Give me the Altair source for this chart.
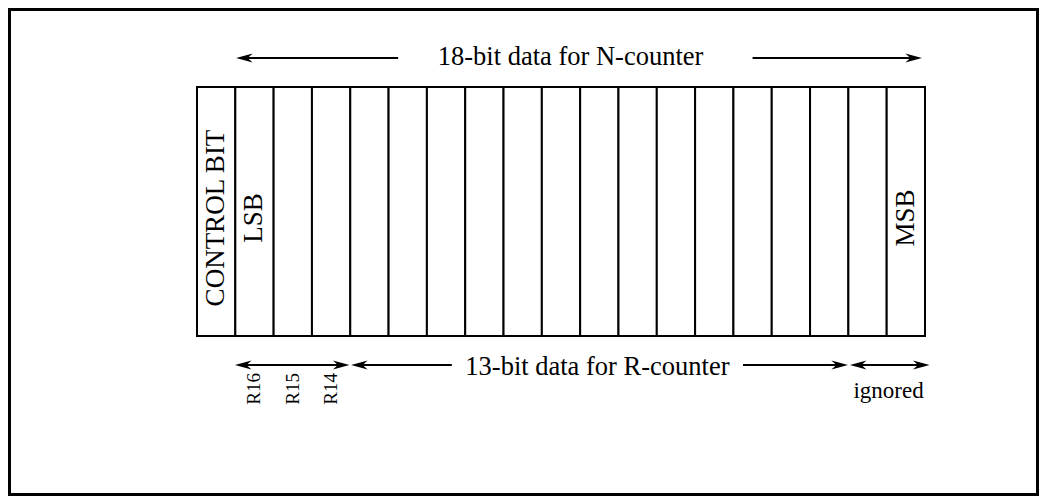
import altair as alt
import pandas as pd

# ---------------- data ----------------
BIT_LABELS = ["CONTROL BIT", "LSB"] + [""] * 16 + ["MSB"]
TOP_LABEL = "18-bit data for N-counter"
TOP_FIRST_BIT = 1
TOP_BITS = 18
GROUP_LABELS = ["", "13-bit data for R-counter", "ignored"]
GROUP_BITS = [3, 13, 2]
R_LABELS = ["R16", "R15", "R14"]

# ---------------- layout (scale space) ----------------
W, H = 1031, 488
PX_PER_BIT = 38.316
REG_LEFT_PX = 189.0
X_DOMAIN = [-REG_LEFT_PX / PX_PER_BIT, (W - REG_LEFT_PX) / PX_PER_BIT]
Y_DOMAIN = [0, H]

REG_TOP, REG_BOTTOM = 79, 328
CELL_LABEL_Y = 210
TOP_ARROW_Y = 50
TOP_TEXT_Y = 49
BOT_ARROW_Y = 357
BOT_TEXT_Y = 359
R_LABEL_Y = 365
IGNORED_Y = 390
FONT = "Liberation Serif"

xs = alt.Scale(domain=X_DOMAIN, nice=False, zero=False)
ys = alt.Scale(domain=Y_DOMAIN, nice=False, zero=False, reverse=True)
X = lambda f: alt.X(f, type="quantitative", scale=xs, axis=None)
Y = lambda f: alt.Y(f, type="quantitative", scale=ys, axis=None)

# register cells
cells = pd.DataFrame({
    "b0": list(range(len(BIT_LABELS))),
    "b1": [i + 1 for i in range(len(BIT_LABELS))],
    "mid": [i + 0.5 for i in range(len(BIT_LABELS))],
    "label": BIT_LABELS,
    "top": REG_TOP, "bottom": REG_BOTTOM, "ly": CELL_LABEL_Y,
})
cell_rects = alt.Chart(cells).mark_rect(fill="white", stroke="black", strokeWidth=2).encode(
    x=X("b0"), x2="b1", y=Y("top"), y2="bottom")
cell_text = alt.Chart(cells).mark_text(
    font=FONT, fontSize=27, angle=270, align="center", baseline="middle", color="black"
).encode(x=X("mid"), y=Y("ly"), text="label:N")

# arrow segments / heads / texts
segs, heads, texts = [], [], []

def arrow(b0, b1, y, label, text_y, text_center=None, gap_l=0.0, gap_r=0.0):
    heads.append({"x": b0, "y": y, "dir": "L"})
    heads.append({"x": b1, "y": y, "dir": "R"})
    if label:
        c = text_center if text_center is not None else (b0 + b1) / 2
        segs.append({"x": b0 + 0.1, "x2": c - gap_l, "y": y})
        segs.append({"x": c + gap_r, "x2": b1 - 0.1, "y": y})
        texts.append({"x": c, "y": text_y, "t": label, "size": 26})
    else:
        segs.append({"x": b0 + 0.1, "x2": b1 - 0.1, "y": y})

# top group (gaps in bit units around the title)
arrow(TOP_FIRST_BIT + 0.02, TOP_FIRST_BIT + TOP_BITS - 0.08, TOP_ARROW_Y, TOP_LABEL,
      TOP_TEXT_Y, text_center=9.75, gap_l=4.5, gap_r=4.75)

# bottom groups
start = 1
for lab, n in zip(GROUP_LABELS, GROUP_BITS):
    b0, b1 = start, start + n
    if lab == "ignored":
        arrow(b0 + 0.04, b1 + 0.12, BOT_ARROW_Y, "", 0)
        texts.append({"x": (b0 + b1) / 2 + 0.05, "y": IGNORED_Y, "t": lab, "size": 23})
    elif lab:
        arrow(b0 + 0.02, b1 - 0.01, BOT_ARROW_Y, lab, BOT_TEXT_Y,
              text_center=(b0 + b1) / 2 - 0.05, gap_l=3.8, gap_r=3.8)
    else:
        arrow(b0 - 0.01, b1 - 0.02, BOT_ARROW_Y, "", 0)
    start = b1

segs_df = pd.DataFrame(segs)
heads_df = pd.DataFrame(heads)
texts_df = pd.DataFrame(texts)

lines = alt.Chart(segs_df).mark_rule(color="black", strokeWidth=2).encode(
    x=X("x"), x2="x2", y=Y("y"))

HEAD_R = "M0,0L-1,-0.27L-0.7,0L-1,0.27Z"
HEAD_L = "M0,0L1,-0.27L0.7,0L1,0.27Z"
HEAD_SIZE = 1100
head_r = alt.Chart(heads_df[heads_df["dir"] == "R"]).mark_point(
    shape=HEAD_R, size=HEAD_SIZE, filled=True, color="black", opacity=1, strokeWidth=0
).encode(x=X("x"), y=Y("y"))
head_l = alt.Chart(heads_df[heads_df["dir"] == "L"]).mark_point(
    shape=HEAD_L, size=HEAD_SIZE, filled=True, color="black", opacity=1, strokeWidth=0
).encode(x=X("x"), y=Y("y"))

big_text = alt.Chart(texts_df[texts_df["size"] == 26]).mark_text(
    font=FONT, fontSize=26.5, align="center", baseline="middle", color="black"
).encode(x=X("x"), y=Y("y"), text="t:N")
small_text = alt.Chart(texts_df[texts_df["size"] == 23]).mark_text(
    font=FONT, fontSize=23, align="center", baseline="alphabetic", color="black"
).encode(x=X("x"), y=Y("y"), text="t:N")

rdf = pd.DataFrame({"x": [i + 1.5 for i in range(len(R_LABELS))], "t": R_LABELS, "y": R_LABEL_Y})
r_text = alt.Chart(rdf).mark_text(
    font=FONT, fontSize=19, angle=270, align="right", baseline="middle", color="black"
).encode(x=X("x"), y=Y("y"), text="t:N")

frame = alt.Chart(pd.DataFrame({"k": [0]})).mark_rect(
    fill=None, stroke="black", strokeWidth=3, clip=False
).encode(x=alt.value(1.5), x2=alt.value(1029.5), y=alt.value(1.5), y2=alt.value(486.5))

chart = alt.layer(
    frame, cell_rects, cell_text, lines, head_r, head_l, big_text, small_text, r_text
).properties(
    width=W, height=H, padding=0, autosize=alt.AutoSizeParams(type="none")
).configure_view(stroke=None).configure(background="white")

chart.save("out.html", embed_options={"renderer": "svg", "actions": False})
